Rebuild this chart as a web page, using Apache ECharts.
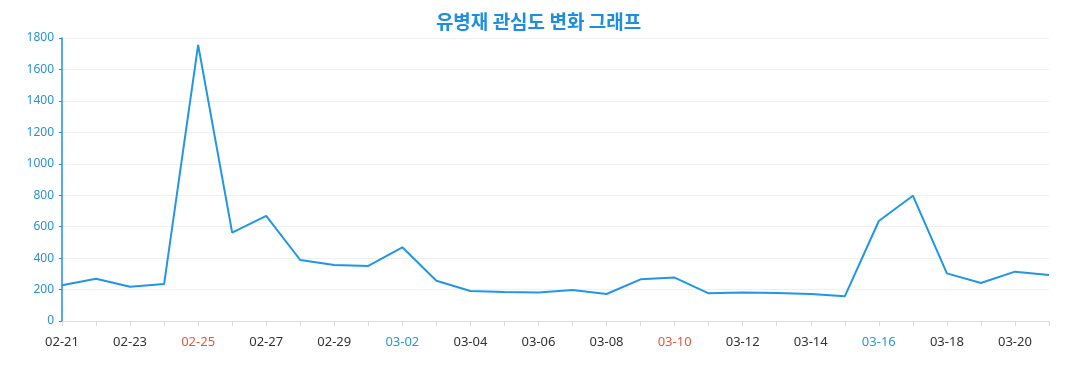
<!DOCTYPE html>
<html><head><meta charset="utf-8">
<script src="https://cdn.jsdelivr.net/npm/echarts@6/dist/echarts.min.js"></script>
<style>html,body{margin:0;padding:0;background:#fff}#c{width:1077px;height:390px}</style>
</head><body><div id="c"></div>
<script>
const titleText = '유병재 관심도 변화 그래프';
const dates = ['02-21','02-22','02-23','02-24','02-25','02-26','02-27','02-28','02-29','03-01','03-02','03-03','03-04','03-05','03-06','03-07','03-08','03-09','03-10','03-11','03-12','03-13','03-14','03-15','03-16','03-17','03-18','03-19','03-20','03-21'];
const values = [228,269,218,235,1756,562,668,388,356,350,469,256,191,184,182,197,172,265,276,176,182,178,172,157,636,797,303,242,314,293];
const redDates = ['02-25','03-10'];
const blueDates = ['03-02','03-16'];

const chart = echarts.init(document.getElementById('c'));
chart.setOption({
  animation:false,
  title:{text:titleText,left:'center',top:7,textStyle:{color:'#1e8fe0',fontSize:19,fontWeight:'bold',fontFamily:'Noto Sans CJK KR'}},
  grid:{left:62,right:28,top:38,bottom:69},
  xAxis:{type:'category',data:dates,boundaryGap:false,
    axisLine:{lineStyle:{color:'#dcdcdc'}},
    axisTick:{show:true,interval:0,lineStyle:{color:'#dcdcdc'}},
    axisLabel:{interval:1,margin:15,fontSize:13,fontFamily:'Noto Sans',
      color:function(v){return redDates.includes(v)?'#e05a3a':(blueDates.includes(v)?'#2a9ad6':'#333');}},
    splitLine:{show:false}},
  yAxis:{type:'value',min:0,max:1800,interval:200,
    axisLine:{show:true,lineStyle:{color:'#1e8fe0',width:1.5}},
    axisTick:{show:true,length:3,lineStyle:{color:'#1e8fe0'}},
    axisLabel:{color:'#2a90d8',fontSize:12,fontFamily:'Noto Sans',margin:8,formatter:function(v){return String(v);}},
    splitLine:{lineStyle:{color:'#f0f0f0'}}},
  series:[{type:'line',data:values,showSymbol:false,lineStyle:{color:'#2196e6',width:2},itemStyle:{color:'#2196e6'}}]
});
</script></body></html>
